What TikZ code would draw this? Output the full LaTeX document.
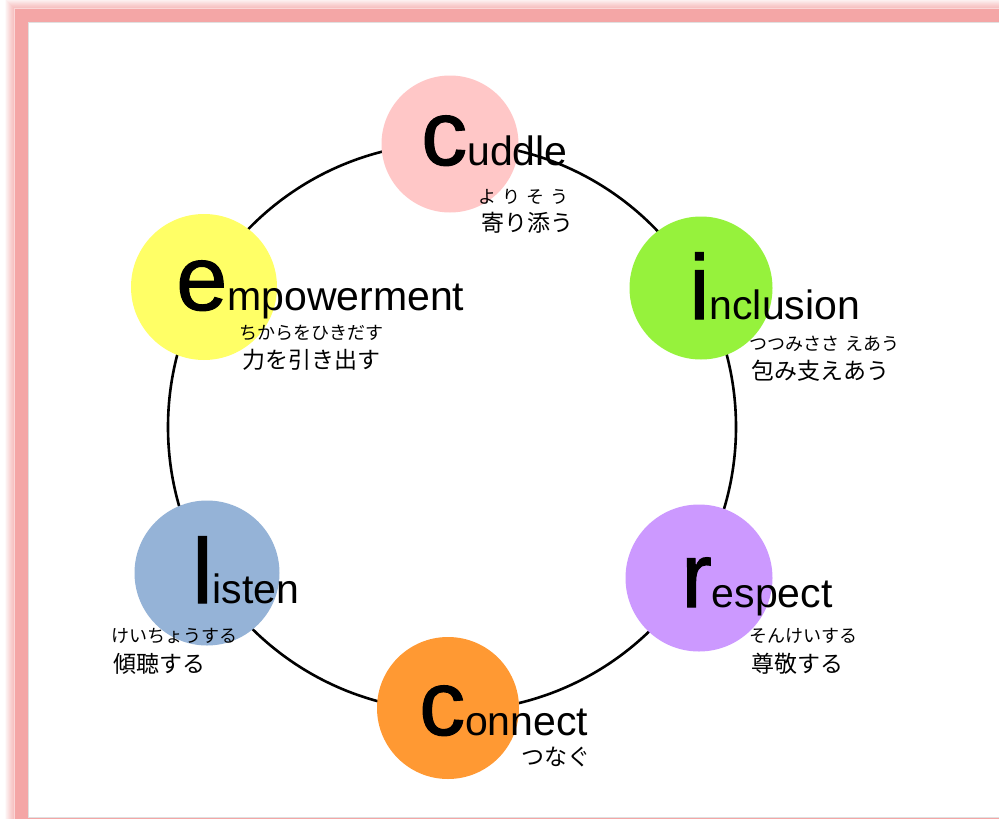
\documentclass[tikz,border=0pt]{standalone}
\usepackage{fontspec}
\setmainfont{Liberation Sans}
\newfontfamily\bigfont[FakeBold=1.2]{Liberation Sans}
\newfontfamily\jp{Noto Sans CJK JP}
\definecolor{framepink}{HTML}{F4A6A6}
\definecolor{cpink}{HTML}{FFC7C7}
\definecolor{cgreen}{HTML}{96F23C}
\definecolor{cyellow}{HTML}{FFFF66}
\definecolor{cblue}{HTML}{95B3D7}
\definecolor{cpurple}{HTML}{CC99FF}
\definecolor{corange}{HTML}{FF9933}
\newcommand\bigword[2]{{\bigfont\fontsize{92}{92}\selectfont #1}{\fontsize{41}{41}\selectfont #2}}
\tikzset{
  disc/.style={circle, inner sep=0pt, minimum size=#1},
  word/.style={anchor=base west, inner sep=0pt},
  furi/.style={anchor=west, inner sep=0pt, font=\jp\fontsize{18}{18}\selectfont},
  kanji/.style={anchor=west, inner sep=0pt, font=\jp\fontsize{23}{23}\selectfont},
  ring/.style={draw=black, line width=2.6pt}
}
\begin{document}
\begin{tikzpicture}[x=1pt,y=-1pt]
\useasboundingbox (0,0) rectangle (999,819);
\fill[white] (0,0) rectangle (999,819);
% frame with soft shadow
\foreach \i [evaluate=\i as \op using 0.5*(1-\i/10)] in {1,...,9}
  \draw[framepink, line width=1.2pt, opacity=\op] (15-\i,9-\i) rectangle (1040,860);
\fill[framepink] (15,9) rectangle (1040,860);
\fill[white] (28,22) rectangle (1030,817);
\draw[black!12, line width=0.8pt] (28,22) -- (1030,22);
\draw[black!12, line width=0.8pt] (28,22) -- (28,817) -- (1030,817);
% ring
\draw[ring] (452,427) circle[radius=284];
% discs
\node[disc=137, fill=cpink]   (cud) at (450,144) {};
\node[disc=143, fill=cgreen]  (inc) at (701,288) {};
\node[disc=146, fill=cyellow] (emp) at (204,287) {};
\node[disc=145, fill=cblue]   (lis) at (207,573) {};
\node[disc=147, fill=cpurple] (res) at (699,578) {};
\node[disc=142, fill=corange] (con) at (448,708) {};
% words
\node[word] (wcud) at (421,165) {\bigword{c}{uddle}};
\node[word] (winc) at (689,319) {\bigword{i}{nclusion}};
\node[word] (wemp) at (176,310) {\bigword{e}{mpowerment}};
\node[word] (wlis) at (192,603) {\bigword{l}{isten}};
\node[word] (wres) at (681,607) {\bigword{r}{espect}};
\node[word] (wcon) at (419,735) {\bigword{c}{onnect}};
% readings
\node[furi] (fcud) at (478,197) {よ\hspace{6pt}り\hspace{6pt}そ\hspace{6pt}う};
\node[furi] (finc) at (749,344) {つつみささ\hspace{6pt}えあう};
\node[furi] (femp) at (239,333) {ちからをひきだす};
\node[furi] (flis) at (111,636) {けいちょうする};
\node[furi] (fres) at (749,636) {そんけいする};
% japanese
\node[kanji] (kcud) at (481,223) {寄り添う};
\node[kanji] (kinc) at (751,371) {包み支えあう};
\node[kanji] (kemp) at (242,360) {力を引き出す};
\node[kanji] (klis) at (113,664) {傾聴する};
\node[kanji] (kres) at (751,664) {尊敬する};
\node[kanji] (kcon) at (521,757) {つなぐ};
\end{tikzpicture}
\end{document}
